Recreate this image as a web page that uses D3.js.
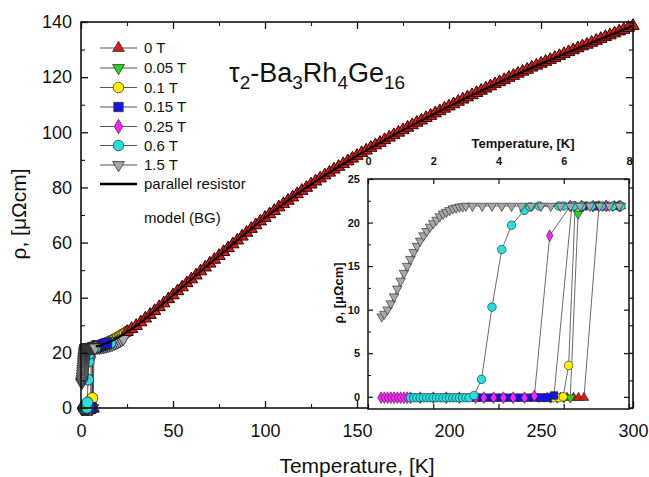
<!DOCTYPE html>
<html><head><meta charset="utf-8">
<script src="https://cdn.jsdelivr.net/npm/d3@7"></script>
<style>
body{margin:0;background:#fff}
svg{display:block}
text{font-family:"Liberation Sans",Arial,Helvetica,sans-serif;fill:#111}
</style>
</head><body>
<svg id="chart" width="649" height="477"></svg>
<script>
// ---------------- DATA ----------------
const fieldLabels = ["0 T","0.05 T","0.1 T","0.15 T","0.25 T","0.6 T","1.5 T"];
const mainXTicks = [0,50,100,150,200,250,300];
const mainYTicks = [0,20,40,60,80,100,120,140];
const insetXTicks = [0,2,4,6,8];
const insetYTicks = [0,5,10,15,20,25];

// inset (low temperature) data, [T (K), rho (µΩcm)]
const low0T = [[5.5,-0.1],[5.7,-0.1],[5.9,-0.1],[6.1,-0.1],[6.3,-0.1],[6.45,-0.1],[6.62,-0.1],[7.08,21.9],[7.3,21.9],[7.55,21.9],[7.75,21.9]];
const low005T = [[5.6,-0.1],[5.8,-0.1],[6.0,-0.1],[6.2,-0.1],[6.44,21.0],[6.6,21.9],[6.9,21.9],[7.2,21.9],[7.5,21.9],[7.75,21.9]];
const low01T = [[5.25,-0.1],[5.4,-0.1],[5.55,-0.1],[5.7,-0.1],[5.85,-0.1],[5.98,0.0],[6.15,3.6],[6.35,21.9],[6.7,21.9],[7.0,21.9],[7.35,21.9],[7.7,21.9]];
const low015T = [[3.3,-0.1],[3.5,-0.1],[3.7,-0.1],[3.9,-0.1],[4.1,-0.1],[4.3,-0.1],[4.5,-0.1],[4.7,-0.1],[4.9,-0.1],[5.1,-0.1],[5.3,-0.1],[5.5,-0.1],[5.7,0.15],[6.25,21.9],[6.6,21.9],[6.95,21.9],[7.25,21.9],[7.6,21.9]];
const low025T = [[0.4,-0.1],[0.5,-0.1],[0.6,-0.1],[0.7,-0.1],[0.8,-0.1],[0.9,-0.1],[1.0,-0.1],[1.1,-0.1],[1.2,-0.1],[1.3,-0.1],[1.6,-0.1],[2.0,-0.1],[2.4,-0.1],[2.8,-0.1],[3.3,-0.1],[3.55,-0.1],[3.85,-0.1],[4.15,-0.1],[4.45,-0.1],[4.8,-0.1],[5.1,0.1],[5.57,18.5],[6.2,21.9],[6.55,21.9],[6.9,21.9],[7.3,21.9],[7.7,21.9]];
const low06T = [[1.3,-0.1],[1.4,-0.1],[1.5,-0.1],[1.6,-0.1],[1.7,-0.1],[1.8,-0.1],[1.9,-0.1],[2.0,-0.1],[2.1,-0.1],[2.2,-0.1],[2.3,-0.1],[2.4,-0.1],[2.5,-0.1],[2.6,-0.1],[2.7,-0.1],[2.8,-0.1],[2.9,-0.1],[3.0,-0.1],[3.1,-0.1],[3.25,0.15],[3.48,2.0],[3.8,10.3],[4.1,16.9],[4.4,19.7],[4.79,21.4],[4.97,21.8],[5.25,21.9],[5.85,21.9],[6.0,21.9],[6.3,21.9],[6.55,21.9],[6.85,21.9],[7.15,21.9],[7.5,21.9],[7.75,21.9]];
const low15T = [[0.42,9.2],[0.5,9.5],[0.6,10.0],[0.7,10.7],[0.8,11.5],[0.9,12.4],[1.0,13.3],[1.1,14.2],[1.2,15.0],[1.3,15.8],[1.4,16.6],[1.5,17.3],[1.6,17.9],[1.7,18.5],[1.8,19.0],[1.9,19.5],[2.0,19.9],[2.1,20.3],[2.2,20.7],[2.3,21.0],[2.4,21.2],[2.5,21.4],[2.6,21.6],[2.7,21.7],[2.8,21.8],[2.9,21.85],[3.0,21.9],[3.2,21.9],[3.5,21.9],[3.8,21.9],[4.1,21.9],[4.4,21.9],[4.7,21.9],[5.0,21.9],[5.3,21.9],[5.6,21.9],[5.9,21.9],[6.2,21.9],[6.5,21.9],[6.8,21.9],[7.1,21.9],[7.4,21.9],[7.7,21.9]];

// higher-temperature data shown only in the main panel
const high0T = [[25,27.6],[27.5,28.7],[30,29.8],[32.5,31.1],[35,32.5],[37.5,33.8],[40,35.2],[42.5,36.6],[45,38.0],[47.5,39.5],[50,40.9],[52.5,42.4],[55,43.8],[57.5,45.3],[60,46.7],[62.5,48.1],[65,49.6],[67.5,51.0],[70,52.4],[72.5,53.8],[75,55.2],[77.5,56.6],[80,58.0],[82.5,59.4],[85,60.8],[87.5,62.2],[90,63.6],[92.5,65.0],[95,66.3],[97.5,67.7],[100,69.0],[102.5,70.3],[105,71.5],[107.5,72.8],[110,74.0],[112.5,75.2],[115,76.4],[117.5,77.6],[120,78.8],[122.5,79.9],[125,81.1],[127.5,82.2],[130,83.3],[132.5,84.4],[135,85.4],[137.5,86.5],[140,87.5],[142.5,88.5],[145,89.5],[147.5,90.5],[150,91.5],[152.5,92.5],[155,93.4],[157.5,94.4],[160,95.3],[162.5,96.2],[165,97.2],[167.5,98.1],[170,99.0],[172.5,99.9],[175,100.8],[177.5,101.7],[180,102.6],[182.5,103.5],[185,104.3],[187.5,105.2],[190,106.0],[192.5,106.9],[195,107.7],[197.5,108.6],[200,109.4],[202.5,110.2],[205,111.1],[207.5,111.9],[210,112.7],[212.5,113.5],[215,114.3],[217.5,115.1],[220,115.9],[222.5,116.7],[225,117.5],[227.5,118.2],[230,119.0],[232.5,119.8],[235,120.5],[237.5,121.3],[240,122.0],[242.5,122.7],[245,123.5],[247.5,124.2],[250,124.9],[252.5,125.6],[255,126.3],[257.5,127.0],[260,127.7],[262.5,128.4],[265,129.1],[267.5,129.8],[270,130.5],[272.5,131.2],[275,131.8],[277.5,132.5],[280,133.2],[282.5,133.9],[285,134.6],[287.5,135.2],[290,135.9],[292.5,136.6],[295,137.2],[297.5,137.9],[300,138.6]];
const high01T = [[14,23.6],[15,23.9],[16,24.2],[17,24.5],[18,24.9],[19,25.2],[20,25.6],[21,26.0],[22,26.4],[23,26.8],[24,27.2],[25,27.6],[26,28.0]];
const high015T = [[8,22.1],[9,22.3],[10,22.5],[11,22.75],[12,23.0],[13,23.25],[14,23.5]];
const high06T = [[8,22.0],[9,22.15],[10,22.3],[11,22.5],[12,22.7],[13,22.9],[14,23.1],[15,23.35],[16,23.6]];
const high15T = [[8,21.9],[9,21.95],[10,22.0],[11,22.1],[12,22.2],[13,22.35],[14,22.5],[15,22.7],[16,22.9],[17,23.1],[18,23.4],[19,23.7],[20,24.0],[21,24.3],[22,24.7],[23,25.1]];

// parallel resistor model (Bloch-Grüneisen)
const modelCurve = [[8,22.3],[10,22.6],[15,23.8],[20,25.5],[25,27.6],[30,29.8],[40,35.2],[50,40.9],[60,46.7],[70,52.4],[80,58.0],[90,63.6],[100,69.0],[110,74.0],[120,78.8],[130,83.3],[140,87.5],[150,91.5],[160,95.3],[170,99.0],[180,102.6],[190,106.0],[200,109.4],[210,112.7],[220,115.9],[230,119.0],[240,122.0],[250,124.9],[260,127.7],[270,130.5],[280,133.2],[290,135.9],[300,138.6]];

// ---------------- STYLE ----------------
const seriesStyle = [
  {fill:"#d81c18", shape:"up"},
  {fill:"#22d622", shape:"down"},
  {fill:"#ffee00", shape:"circle"},
  {fill:"#1414e6", shape:"square"},
  {fill:"#ff22ff", shape:"diamond"},
  {fill:"#26e0e0", shape:"circle"},
  {fill:"#a8a8a8", shape:"down"}
];
const lowSets = [low0T, low005T, low01T, low015T, low025T, low06T, low15T];
const highSets = [high0T, [], high01T, high015T, [], high06T, high15T];

const svg = d3.select("#chart");

function symPath(shape, s) {
  const typ = {up:d3.symbolTriangle, down:d3.symbolTriangle, circle:d3.symbolCircle,
               square:d3.symbolSquare, diamond:d3.symbolDiamond}[shape];
  const k = {up:0.55, down:0.55, circle:0.8, square:0.8, diamond:0.55}[shape];
  return d3.symbol(typ, s*s*k)();
}
function drawMarks(g, data, st, x, y, s, sw, stroke) {
  g.selectAll(null).data(data).join("path")
    .attr("d", symPath(st.shape, s))
    .attr("transform", d => `translate(${x(d[0])},${y(d[1])})` + (st.shape==="down" ? " rotate(180)" : ""))
    .attr("fill", st.fill).attr("stroke", stroke || "#222").attr("stroke-width", sw);
}
function styleAxis(g, w) {
  g.select(".domain").remove();
  g.selectAll(".tick line").attr("stroke", "#111").attr("stroke-width", w);
}

// ---------------- MAIN PANEL ----------------
const x = d3.scaleLinear().domain([0,300]).range([81,633]);
const y = d3.scaleLinear().domain([0,140]).range([408,22]);

const main = svg.append("g");
const line = d3.line().x(d => x(d[0])).y(d => y(d[1]));

lowSets.forEach((set, i) => {
  const all = i === 0 ? set : set.concat(highSets[i]);
  main.append("path").datum(all).attr("d", line).attr("fill","none").attr("stroke","#333").attr("stroke-width",0.8);
});
[2,6,5,3].forEach(i => drawMarks(main.append("g"), highSets[i], seriesStyle[i], x, y, 11, 0.8));
drawMarks(main.append("g"), high0T, seriesStyle[0], x, y, 11, 1.0, "#2a0505");
lowSets.forEach((set, i) => drawMarks(main.append("g"), set, seriesStyle[i], x, y, 11, 0.8));

// model line
main.append("path").datum(modelCurve)
  .attr("d", d3.line().x(d => x(d[0])).y(d => y(d[1])).curve(d3.curveMonotoneX))
  .attr("fill","none").attr("stroke","#000").attr("stroke-width",2.2);

// axes
const mFont = 18;
const gb = svg.append("g").attr("transform","translate(0,408)")
  .call(d3.axisBottom(x).tickValues(mainXTicks).tickSize(-7).tickPadding(16));
styleAxis(gb, 1.3);
gb.selectAll("text").attr("font-size", mFont).style("font-family","Liberation Sans, Arial, sans-serif");
const gbm = svg.append("g").attr("transform","translate(0,408)")
  .call(d3.axisBottom(x).tickValues([25,75,125,175,225,275]).tickSize(-4).tickFormat(""));
styleAxis(gbm, 1.1);
const gt = svg.append("g").attr("transform","translate(0,22)")
  .call(d3.axisTop(x).tickValues(mainXTicks).tickSize(-7).tickFormat(""));
styleAxis(gt, 1.3);
const gtm = svg.append("g").attr("transform","translate(0,22)")
  .call(d3.axisTop(x).tickValues([25,75,125,175,225,275]).tickSize(-4).tickFormat(""));
styleAxis(gtm, 1.1);
const gl = svg.append("g").attr("transform","translate(81,0)")
  .call(d3.axisLeft(y).tickValues(mainYTicks).tickSize(-7).tickPadding(9));
styleAxis(gl, 1.3);
gl.selectAll("text").attr("font-size", mFont).style("font-family","Liberation Sans, Arial, sans-serif");
const glm = svg.append("g").attr("transform","translate(81,0)")
  .call(d3.axisLeft(y).tickValues([10,30,50,70,90,110,130]).tickSize(-4).tickFormat(""));
styleAxis(glm, 1.1);
const gr = svg.append("g").attr("transform","translate(633,0)")
  .call(d3.axisRight(y).tickValues(mainYTicks).tickSize(-7).tickFormat(""));
styleAxis(gr, 1.3);
const grm = svg.append("g").attr("transform","translate(633,0)")
  .call(d3.axisRight(y).tickValues([10,30,50,70,90,110,130]).tickSize(-4).tickFormat(""));
styleAxis(grm, 1.1);

svg.append("rect").attr("x", x(0)).attr("y", y(140)).attr("width", x(300)-x(0)).attr("height", y(0)-y(140))
  .attr("fill","none").attr("stroke","#111").attr("stroke-width",1.6);

// axis titles
svg.append("text").attr("x", 357).attr("y", 473).attr("text-anchor","middle")
  .attr("font-size", 21).text("Temperature, [K]");
svg.append("text").attr("transform","translate(26,214) rotate(-90)").attr("text-anchor","middle")
  .attr("font-size", 21).text("ρ, [μΩcm]");

// compound title
const title = svg.append("text").attr("x", 229).attr("y", 82).attr("font-size", 27);
title.append("tspan").text("τ");
title.append("tspan").attr("font-size", 19).attr("dy", 7).text("2");
title.append("tspan").attr("dy", -7).text("-Ba");
title.append("tspan").attr("font-size", 19).attr("dy", 7).text("3");
title.append("tspan").attr("dy", -7).text("Rh");
title.append("tspan").attr("font-size", 19).attr("dy", 7).text("4");
title.append("tspan").attr("dy", -7).text("Ge");
title.append("tspan").attr("font-size", 19).attr("dy", 7).text("16");

// legend
const leg = svg.append("g");
const rowY = [48, 68, 87.5, 107, 126.5, 145.5, 165];
fieldLabels.forEach((lab, i) => {
  leg.append("line").attr("x1",100).attr("x2",137).attr("y1",rowY[i]).attr("y2",rowY[i])
    .attr("stroke","#555").attr("stroke-width",1.1);
  leg.append("path").attr("d", symPath(seriesStyle[i].shape, 10.5))
    .attr("transform", `translate(118.5,${rowY[i]})` + (seriesStyle[i].shape==="down" ? " rotate(180)" : ""))
    .attr("fill", seriesStyle[i].fill).attr("stroke","#333").attr("stroke-width",0.8);
  leg.append("text").attr("x",144).attr("y",rowY[i]).attr("dy","0.36em")
    .attr("font-size",15).attr("fill","#333").text(lab);
});
leg.append("line").attr("x1",100).attr("x2",137).attr("y1",184).attr("y2",184)
  .attr("stroke","#000").attr("stroke-width",2.6);
leg.append("text").attr("x",144).attr("y",184).attr("dy","0.36em")
  .attr("font-size",15).attr("fill","#333").text("parallel resistor");
leg.append("text").attr("x",144).attr("y",218).attr("dy","0.36em")
  .attr("font-size",15).attr("fill","#333").text("model (BG)");

// ---------------- INSET ----------------
const xi = d3.scaleLinear().domain([0,8]).range([368,629]);
const yi = d3.scaleLinear().domain([-1.4,25]).range([409,179]);
const ins = svg.append("g");
ins.append("rect").attr("x", xi(0)).attr("y", yi(25)).attr("width", xi(8)-xi(0)).attr("height", yi(-1.4)-yi(25))
  .attr("fill","#fff");

const iline = d3.line().x(d => xi(d[0])).y(d => yi(d[1]));
lowSets.forEach(set => {
  ins.append("path").datum(set).attr("d", iline).attr("fill","none").attr("stroke","#444").attr("stroke-width",0.8);
});
lowSets.forEach((set, i) => drawMarks(ins.append("g"), set, seriesStyle[i], xi, yi, 8.5, 0.6));

const iFont = 11;
const it = ins.append("g").attr("transform",`translate(0,${yi(25)})`)
  .call(d3.axisTop(xi).tickValues(insetXTicks).tickSize(-5).tickPadding(14));
styleAxis(it, 1.2);
it.selectAll("text").attr("font-size", iFont).attr("font-weight","bold").style("font-family","Liberation Sans, Arial, sans-serif");
const ib = ins.append("g").attr("transform",`translate(0,${yi(-1.4)})`)
  .call(d3.axisBottom(xi).tickValues(insetXTicks).tickSize(-5).tickFormat(""));
styleAxis(ib, 1.2);
const il = ins.append("g").attr("transform",`translate(${xi(0)},0)`)
  .call(d3.axisLeft(yi).tickValues(insetYTicks).tickSize(-5).tickPadding(8));
styleAxis(il, 1.2);
il.selectAll("text").attr("font-size", iFont).attr("font-weight","bold").style("font-family","Liberation Sans, Arial, sans-serif");
const ilm = ins.append("g").attr("transform",`translate(${xi(0)},0)`)
  .call(d3.axisLeft(yi).tickValues([2.5,7.5,12.5,17.5,22.5]).tickSize(-3).tickFormat(""));
styleAxis(ilm, 1);
const ir = ins.append("g").attr("transform",`translate(${xi(8)},0)`)
  .call(d3.axisRight(yi).tickValues(insetYTicks).tickSize(-5).tickFormat(""));
styleAxis(ir, 1.2);

ins.append("rect").attr("x", xi(0)).attr("y", yi(25)).attr("width", xi(8)-xi(0)).attr("height", yi(-1.4)-yi(25))
  .attr("fill","none").attr("stroke","#111").attr("stroke-width",1.5);

ins.append("text").attr("x", 523).attr("y", 148).attr("text-anchor","middle")
  .attr("font-size", 13).attr("font-weight","bold").text("Temperature, [K]");
ins.append("text").attr("transform","translate(343,293) rotate(-90)").attr("text-anchor","middle")
  .attr("font-size", 13).attr("font-weight","bold").text("ρ, [μΩcm]");
</script>
</body></html>
